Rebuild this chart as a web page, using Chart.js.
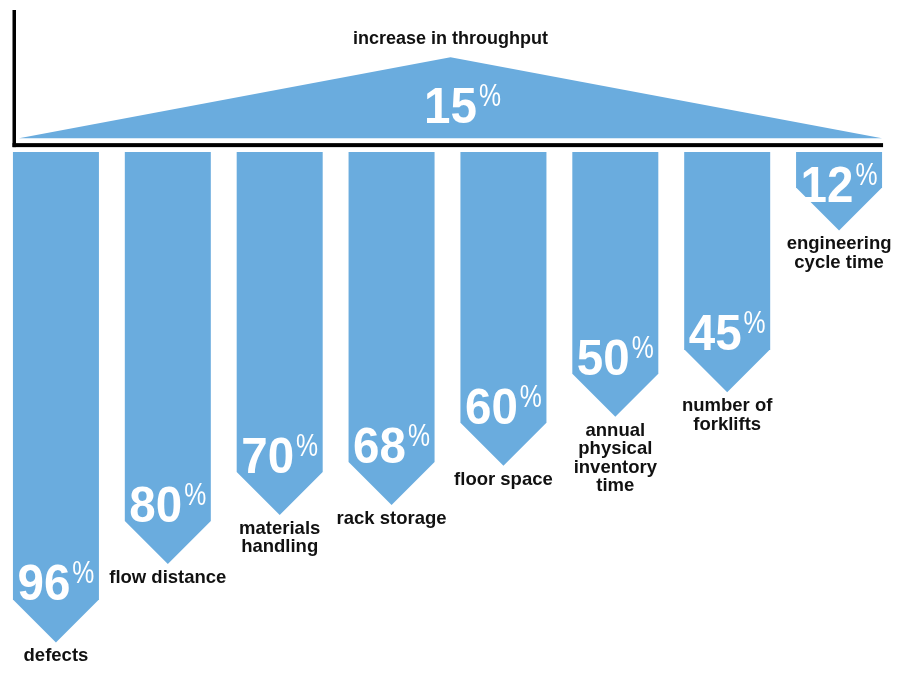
<!DOCTYPE html>
<html lang="en">
<head>
    <meta charset="UTF-8">
    <title>Throughput and reductions</title>
    <script src="https://cdn.jsdelivr.net/npm/chart.js"></script>
    <style>
        body { margin: 0; background: #fff; }
        #wrap { width: 901px; height: 679px; }
    </style>
</head>
<body>
    <div id="wrap"><canvas id="chart" width="901" height="679"></canvas></div>

    <script>
        // Data
        const categories = [
            ['defects'],
            ['flow distance'],
            ['materials', 'handling'],
            ['rack storage'],
            ['floor space'],
            ['annual', 'physical', 'inventory', 'time'],
            ['number of', 'forklifts'],
            ['engineering', 'cycle time']
        ];
        const reductions = [96, 80, 70, 68, 60, 50, 45, 12];
        const roofTitle = 'increase in throughput';
        const roofValue = 15;

        const BLUE = '#6aacde';
        const FONT = '"Liberation Sans", Arial, sans-serif';
        const BAR_START = -4;   // bars hang from a little above zero

        // Big white "NN%" label
        function drawPercent(ctx, value, cx, baseline, centerDigitsOnly) {
            const digits = String(value);
            ctx.save();
            ctx.fillStyle = '#fff';
            ctx.textBaseline = 'alphabetic';
            ctx.textAlign = 'left';
            ctx.font = 'bold 50px ' + FONT;
            const dw = ctx.measureText(digits).width * 0.95;
            ctx.font = '31px ' + FONT;
            const pw = ctx.measureText('%').width * 0.8;
            const total = dw + 2 + pw;
            const start = centerDigitsOnly ? cx - dw / 2 : cx - total / 2;

            ctx.save();
            ctx.translate(start, baseline);
            ctx.scale(0.95, 1);
            ctx.font = 'bold 50px ' + FONT;
            ctx.fillText(digits, 0, 0);
            ctx.restore();

            ctx.save();
            ctx.translate(start + dw + 2, baseline - 17);
            ctx.scale(0.8, 1);
            ctx.font = '31px ' + FONT;
            ctx.fillText('%', 0, 0);
            ctx.restore();
            ctx.restore();
        }

        const arrowPlugin = {
            id: 'arrows',
            beforeDatasetsDraw(chart) {
                // frame: vertical rule on the left and the horizontal beam
                const ctx = chart.ctx;
                const xr = chart.scales.xr, yr = chart.scales.yr, y = chart.scales.y;
                const beamY = (yr.getPixelForValue(0) + y.getPixelForValue(BAR_START)) / 2;
                const left = xr.getPixelForValue(0) - 5;
                const right = xr.getPixelForValue(2) + 1;
                ctx.save();
                ctx.fillStyle = '#000';
                ctx.fillRect(left - 1.5, 10, 3.5, beamY + 2 - 10);
                ctx.fillRect(left - 1.5, beamY - 2, right - left + 1.5, 4);
                ctx.restore();
            },
            afterDatasetsDraw(chart) {
                const ctx = chart.ctx;
                const xr = chart.scales.xr, yr = chart.scales.yr;

                // roof text
                const apexX = xr.getPixelForValue(1);
                const apexY = yr.getPixelForValue(roofValue);
                ctx.save();
                ctx.fillStyle = '#111';
                ctx.font = 'bold 18px ' + FONT;
                ctx.textAlign = 'center';
                ctx.textBaseline = 'alphabetic';
                ctx.fillText(roofTitle, apexX, apexY - 13);
                ctx.restore();
                drawPercent(ctx, roofValue, apexX, apexY + 66, true);

                // hanging arrows
                const meta = chart.getDatasetMeta(0);
                meta.data.forEach((bar, i) => {
                    const { x, y, base, width } = bar.getProps(['x', 'y', 'base', 'width'], true);
                    const half = width / 2;
                    const shoulder = Math.max(base, y - half);
                    ctx.save();
                    ctx.fillStyle = BLUE;
                    ctx.beginPath();
                    ctx.moveTo(x - half, base);
                    ctx.lineTo(x + half, base);
                    ctx.lineTo(x + half, shoulder);
                    ctx.lineTo(x, y);
                    ctx.lineTo(x - half, shoulder);
                    ctx.closePath();
                    ctx.fill();
                    ctx.restore();

                    const baseline = Math.max(shoulder + 1, base + 50);
                    drawPercent(ctx, reductions[i], x, baseline, false);

                    ctx.save();
                    ctx.fillStyle = '#111';
                    ctx.font = 'bold 18.5px ' + FONT;
                    ctx.textAlign = 'center';
                    ctx.textBaseline = 'alphabetic';
                    categories[i].forEach((line, j) => {
                        ctx.fillText(line, x, y + 19 + j * 18.5);
                    });
                    ctx.restore();
                });
            }
        };

        new Chart(document.getElementById('chart'), {
            type: 'bar',
            data: {
                labels: categories.map(c => c.join(' ')),
                datasets: [
                    {
                        type: 'bar',
                        label: 'reduction',
                        data: reductions.map(v => [BAR_START, v]),
                        backgroundColor: 'rgba(0,0,0,0)',
                        barThickness: 86,
                        grouped: false,
                        xAxisID: 'x',
                        yAxisID: 'y',
                        order: 1
                    },
                    {
                        type: 'line',
                        label: roofTitle,
                        data: [{ x: 0, y: 0 }, { x: 1, y: roofValue }, { x: 2, y: 0 }],
                        backgroundColor: BLUE,
                        borderWidth: 0,
                        pointRadius: 0,
                        fill: 'origin',
                        tension: 0,
                        xAxisID: 'xr',
                        yAxisID: 'yr',
                        order: 2
                    }
                ]
            },
            options: {
                responsive: false,
                animation: false,
                layout: { autoPadding: false, padding: { left: 0, right: 6, top: 0, bottom: 17 } },
                plugins: {
                    legend: { display: false },
                    tooltip: { enabled: false }
                },
                scales: {
                    x: { type: 'category', display: false, offset: true },
                    y: { type: 'linear', display: false, reverse: true, min: -35, max: 100 },
                    xr: { type: 'linear', display: false, offset: false, min: -0.044, max: 2.03 },
                    yr: { type: 'linear', display: false, min: -97, max: 25.6 }
                }
            },
            plugins: [arrowPlugin]
        });
    </script>
</body>
</html>
